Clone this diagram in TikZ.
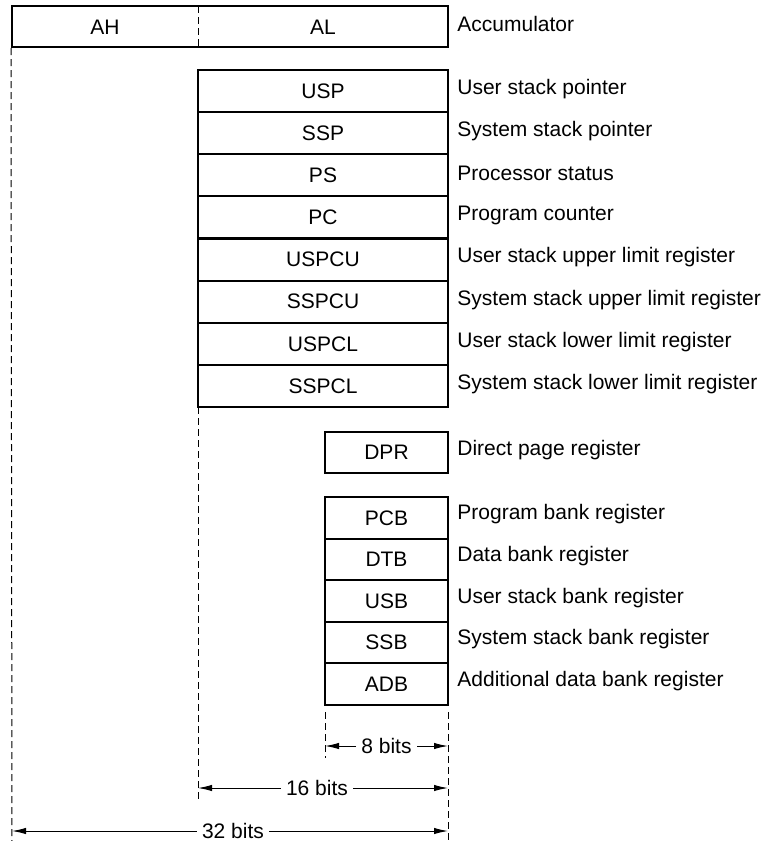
\documentclass[tikz,border=0pt]{standalone}
\usepackage{fontspec}
\setmainfont{Liberation Sans}
\usetikzlibrary{arrows.meta}
\begin{document}
\begin{tikzpicture}[x=0.5pt,y=-0.5pt,
  font=\fontsize{10.5}{12}\selectfont,
  regbox/.style={draw,line width=1pt,inner sep=0pt},
  bigreg/.style={regbox,minimum width=125pt,minimum height=21.06pt},
  smallreg/.style={regbox,minimum width=61.5pt,minimum height=20.8pt},
  desc/.style={anchor=west,inner sep=0pt},
  guide/.style={line width=0.5pt,dash pattern=on 3.5pt off 2pt},
  dim/.style={line width=0.5pt,-{Latex[length=7pt,width=3.2pt]}},
  dimtxt/.style={inner sep=2.5pt}]
\useasboundingbox (0,0) rectangle (768,841);
% accumulator
\node[regbox,minimum width=218pt,minimum height=20.5pt] (acc) at (230,26.5) {};
\node (AH) at (105,27) {AH};
\node (AL) at (323,27) {AL};
\coordinate (divtop) at (198,6);
\coordinate (divbot) at (198,47);
\draw[guide] (divtop) -- (divbot);
\node[desc] (accl) at (457,24) {Accumulator};
% big registers
\foreach \n/\d [count=\i from 0] in {USP/User stack pointer,SSP/System stack pointer,PS/Processor status,PC/Program counter,USPCU/User stack upper limit register,SSPCU/System stack upper limit register,USPCL/User stack lower limit register,SSPCL/System stack lower limit register}{
  \node[bigreg] (r\i) at (323,{91.06+42.125*\i}) {\n};
  \node[desc] (d\i) at (457,{89+42.125*\i}) {\d};
}
% DPR
\node[smallreg] (dpr) at (386.5,452.5) {DPR};
\node[desc] (dprl) at (457,450) {Direct page register};
% bank registers
\foreach \n/\d [count=\i from 0] in {PCB/Program bank register,DTB/Data bank register,USB/User stack bank register,SSB/System stack bank register,ADB/Additional data bank register}{
  \node[smallreg] (b\i) at (386.5,{517.8+41.6*\i}) {\n};
  \node[desc] (bd\i) at (457,{514.5+41.6*\i}) {\d};
}
% guide lines
\coordinate (g12b) at (12,841);
\coordinate (g198t) at (198,407);
\coordinate (g198b) at (198,800);
\coordinate (g325t) at (325,712);
\coordinate (g325b) at (325,758);
\coordinate (g448t) at (448,712);
\coordinate (g448b) at (448,841);
\draw[guide] (acc.south west) -- (g12b);
\draw[guide] (g198t) -- (g198b);
\draw[guide] (g325t) -- (g325b);
\draw[guide] (g448t) -- (g448b);
% dimensions
\coordinate (e8l) at (325,746);
\coordinate (e8r) at (448,746);
\node[dimtxt] (t8) at (386.5,746) {8 bits};
\draw[dim] (t8.west) -- (e8l);
\draw[dim] (t8.east) -- (e8r);
\coordinate (e16l) at (198,788);
\coordinate (e16r) at (448,788);
\node[dimtxt] (t16) at (317,788) {16 bits};
\draw[dim] (t16.west) -- (e16l);
\draw[dim] (t16.east) -- (e16r);
\coordinate (e32l) at (12,831);
\coordinate (e32r) at (448,831);
\node[dimtxt] (t32) at (233,831) {32 bits};
\draw[dim] (t32.west) -- (e32l);
\draw[dim] (t32.east) -- (e32r);
\end{tikzpicture}
\end{document}
